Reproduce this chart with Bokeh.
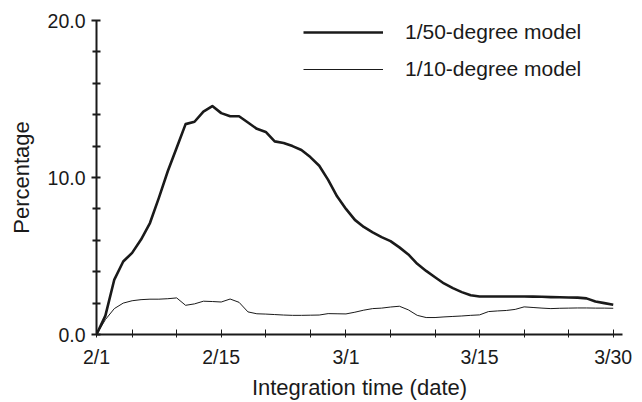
from bokeh.plotting import figure
from bokeh.models import FixedTicker, Legend, LegendItem, ColumnDataSource
from bokeh.embed import file_html
from bokeh.resources import INLINE

# Day offsets from 2/1 (as positioned on the original chart)
days = list(range(0, 59))

model_50 = [0.0, 1.2, 3.5, 4.65, 5.2, 6.05, 7.1, 8.7, 10.4, 11.9,
            13.4, 13.55, 14.2, 14.55, 14.1, 13.9, 13.9, 13.5, 13.1, 12.9,
            12.3, 12.2, 12.0, 11.75, 11.3, 10.75, 9.85, 8.8, 8.0, 7.3,
            6.85, 6.5, 6.2, 5.95, 5.55, 5.1, 4.5, 4.05, 3.65, 3.25,
            2.95, 2.7, 2.5, 2.42, 2.42, 2.42, 2.42, 2.42, 2.42, 2.41,
            2.4, 2.38, 2.37, 2.36, 2.35, 2.3, 2.1, 2.0, 1.9]

model_10 = [0.0, 0.95, 1.65, 2.0, 2.15, 2.22, 2.25, 2.25, 2.28, 2.33,
            1.86, 1.95, 2.12, 2.1, 2.07, 2.26, 2.05, 1.44, 1.32, 1.3,
            1.27, 1.24, 1.22, 1.22, 1.23, 1.24, 1.33, 1.32, 1.31, 1.42,
            1.55, 1.65, 1.68, 1.75, 1.8, 1.57, 1.22, 1.08, 1.08, 1.12,
            1.15, 1.18, 1.22, 1.25, 1.46, 1.5, 1.53, 1.6, 1.76, 1.72,
            1.68, 1.65, 1.67, 1.68, 1.69, 1.69, 1.68, 1.68, 1.67]

x_label_ticks = [0, 14, 28, 43, 58]
x_labels = ["2/1", "2/15", "3/1", "3/15", "3/30"]
x_minor_ticks = [4, 9, 19, 24, 33, 38, 48, 53]

y_label_ticks = [0, 10, 20]
y_labels = ["0.0", "10.0", "20.0"]
y_minor_ticks = [2, 4, 6, 8, 12, 14, 16, 18]

series_names = ["1/50-degree model", "1/10-degree model"]

FONT = "Liberation Sans"

src = ColumnDataSource(dict(day=days, m50=model_50, m10=model_10))

p = figure(width=642, height=402, x_range=(0, 59.04), y_range=(0, 20),
           output_backend="svg", toolbar_location=None,
           min_border_left=96, min_border_right=20,
           min_border_top=20, min_border_bottom=67)
p.outline_line_color = None
p.xgrid.visible = False
p.ygrid.visible = False
p.background_fill_color = "white"
p.border_fill_color = "white"

r1 = p.line("day", "m50", source=src, line_color="#1a1a1a", line_width=2.6,
            line_join="round")
r2 = p.line("day", "m10", source=src, line_color="#1a1a1a", line_width=1.0,
            line_join="round")

# x axis
xa = p.xaxis[0]
xa.ticker = FixedTicker(ticks=x_label_ticks, minor_ticks=x_minor_ticks)
xa.major_label_overrides = {t: l for t, l in zip(x_label_ticks, x_labels)}
xa.axis_line_width = 2
xa.axis_line_color = "#1a1a1a"
xa.major_tick_in = 5
xa.major_tick_out = 3
xa.minor_tick_in = 5
xa.minor_tick_out = 3
xa.major_tick_line_width = 1
xa.minor_tick_line_width = 1
xa.major_tick_line_color = "#1a1a1a"
xa.minor_tick_line_color = "#1a1a1a"
xa.major_label_text_font = FONT
xa.major_label_text_font_size = "19.5px"
xa.major_label_text_color = "#1a1a1a"
xa.major_label_standoff = 8
xa.axis_label = "Integration time (date)"
xa.axis_label_text_font = FONT
xa.axis_label_text_font_size = "22px"
xa.axis_label_text_font_style = "normal"
xa.axis_label_text_color = "#1a1a1a"
xa.axis_label_standoff = 4

# y axis
ya = p.yaxis[0]
ya.ticker = FixedTicker(ticks=y_label_ticks, minor_ticks=y_minor_ticks)
ya.major_label_overrides = {t: l for t, l in zip(y_label_ticks, y_labels)}
ya.axis_line_width = 2
ya.axis_line_color = "#1a1a1a"
ya.major_tick_in = 4
ya.major_tick_out = 5
ya.minor_tick_in = 4
ya.minor_tick_out = 4
ya.major_tick_line_width = 2
ya.minor_tick_line_width = 2
ya.major_tick_line_color = "#1a1a1a"
ya.minor_tick_line_color = "#1a1a1a"
ya.major_label_text_font = FONT
ya.major_label_text_font_size = "19.5px"
ya.major_label_text_color = "#1a1a1a"
ya.major_label_standoff = 6
ya.axis_label = "Percentage"
ya.axis_label_text_font = FONT
ya.axis_label_text_font_size = "22px"
ya.axis_label_text_font_style = "normal"
ya.axis_label_text_color = "#1a1a1a"
ya.axis_label_standoff = 11

legend = Legend(items=[LegendItem(label=series_names[0], renderers=[r1]),
                       LegendItem(label=series_names[1], renderers=[r2])],
                location=(207, 253), glyph_width=80, glyph_height=20,
                label_standoff=22, spacing=13, padding=0, margin=0,
                border_line_color=None, background_fill_alpha=0,
                label_text_font=FONT, label_text_font_size="21px",
                label_text_color="#1a1a1a")
p.add_layout(legend)

open("out.html", "w").write(file_html(p, INLINE))
